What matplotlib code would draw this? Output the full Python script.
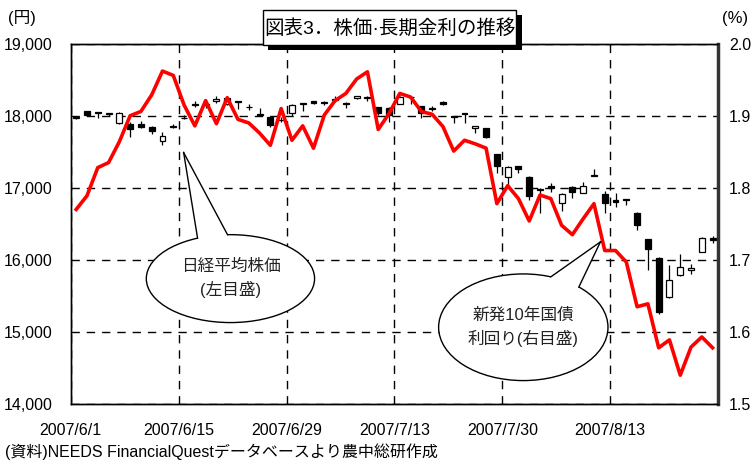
import numpy as np
import matplotlib
matplotlib.use("Agg")
from matplotlib import pyplot as plt
from matplotlib.patches import Ellipse, Polygon, Rectangle

plt.rcParams['font.family'] = ['Liberation Sans', 'Noto Sans CJK JP', 'DejaVu Sans']

# Nikkei 225 daily candles, 2007/6/1 - 2007/8/24
opens = [17970, 18060, 18040, 18025, 17895, 17890, 17880, 17850, 17650, 17840,
         17965, 18155, 18150, 18210, 18160, 18190, 18115, 18015, 17985, 17935,
         18035, 18165, 18205, 18175, 18220, 18180, 18240, 18265, 18115, 18110,
         18170, 18265, 18135, 18100, 18190, 17995, 18035, 17825, 17825, 17465,
         17155, 17300, 17155, 16985, 17020, 16795, 17005, 16935, 17165, 16915,
         16830, 16830, 16655, 16285, 16030, 15480, 15790, 15860, 16115, 16300]
highs = [18000, 18070, 18045, 18045, 18050, 17920, 17925, 17860, 17780, 17880,
         18010, 18205, 18180, 18280, 18280, 18200, 18160, 18110, 17990, 17985,
         18170, 18175, 18210, 18200, 18270, 18185, 18275, 18270, 18120, 18120,
         18270, 18270, 18140, 18140, 18210, 18000, 18040, 17860, 17835, 17470,
         17300, 17305, 17160, 16995, 17060, 16925, 17030, 17085, 17255, 16960,
         16930, 16835, 16660, 16290, 16035, 15925, 16080, 15940, 16315, 16330]
lows = [17950, 17990, 17970, 17990, 17880, 17700, 17830, 17745, 17595, 17830,
        17950, 18120, 18110, 18180, 18150, 18100, 18080, 18005, 17840, 17910,
        18000, 18070, 18170, 18150, 18195, 18105, 18235, 18210, 18010, 17920,
        18160, 18170, 17965, 18070, 18150, 17895, 17895, 17755, 17685, 17200,
        17015, 17200, 16830, 16655, 16940, 16680, 16855, 16925, 17160, 16655,
        16730, 16760, 16410, 15855, 15245, 15475, 15770, 15800, 16110, 16230]
closes = [17985, 18010, 18035, 18040, 18045, 17815, 17840, 17790, 17720, 17855,
          17975, 18160, 18155, 18235, 18250, 18195, 18120, 18025, 17875, 17945,
          18150, 18170, 18180, 18185, 18230, 18160, 18270, 18250, 18035, 18010,
          18255, 18255, 18045, 18110, 18165, 17980, 18020, 17855, 17710, 17300,
          17285, 17265, 16885, 16975, 17000, 16920, 16945, 17020, 17175, 16785,
          16800, 16825, 16480, 16145, 15280, 15720, 15905, 15890, 16310, 16270]

# newly issued 10-year JGB yield (%)
jgb = [1.770, 1.789, 1.828, 1.835, 1.864, 1.900, 1.906, 1.929, 1.962, 1.956,
       1.915, 1.886, 1.921, 1.889, 1.925, 1.895, 1.890, 1.876, 1.859, 1.910,
       1.866, 1.886, 1.855, 1.901, 1.921, 1.931, 1.951, 1.961, 1.881, 1.903,
       1.931, 1.926, 1.906, 1.902, 1.885, 1.851, 1.866, 1.861, 1.855, 1.778,
       1.803, 1.785, 1.754, 1.790, 1.785, 1.748, 1.735, 1.757, 1.778, 1.713,
       1.713, 1.697, 1.635, 1.639, 1.578, 1.589, 1.540, 1.579, 1.593, 1.578]

date_labels = ['2007/6/1', '2007/6/15', '2007/6/29', '2007/7/13', '2007/7/30', '2007/8/13']
left_ticks = [14000, 15000, 16000, 17000, 18000, 19000]
right_ticks = [1.5, 1.6, 1.7, 1.8, 1.9, 2.0]

W, H = 751, 461
fig = plt.figure(figsize=(W / 100, H / 100), dpi=100)
ax = fig.add_axes([70.8 / W, 1 - 404 / H, (718 - 70.8) / W, (404 - 43.7) / H])
ax2 = ax.twinx()

n = len(closes)
x = np.arange(n)
o = np.array(opens)
c = np.array(closes)

# candles
ax.vlines(x, lows, highs, color='black', lw=0.9, zorder=3)
down = c < o
body = np.where(np.abs(c - o) < 8, 8, c - o)
ax.bar(x, body, bottom=o, width=0.55,
       color=np.where(down, 'black', 'white'), edgecolor='black', lw=0.9, zorder=4)

ax.set_xlim(-0.5, n - 0.5)
ax.set_ylim(14000, 19000)
ax.set_yticks(left_ticks)
ax.set_yticklabels([f'{v:,}' for v in left_ticks])
ax.set_xticks(np.arange(-0.5, n - 0.5, 10))
ax.set_xticklabels(date_labels)
ax.tick_params(axis='y', length=0, pad=13, labelsize=11.5)
ax.tick_params(axis='x', length=0, pad=14, labelsize=11.5)
ax.grid(True, color='black', lw=1, linestyle=(0, (6, 5)))
ax.set_axisbelow(True)

# yield line
ax2.plot(x, jgb, color='#ff0000', lw=2.6, zorder=5)
ax2.set_ylim(1.5, 2.0)
ax2.set_yticks(right_ticks)
ax2.set_yticklabels([f'{v:.1f}' for v in right_ticks])
ax2.tick_params(axis='y', length=0, pad=8, labelsize=11.5)
ax2.spines['right'].set_linewidth(2.5)
ax2.spines['right'].set_color('#333333')
for sp in ['left', 'top', 'bottom']:
    ax2.spines[sp].set_linewidth(1)
    ax.spines[sp].set_linewidth(1)


def callout(cx, cy, w, h, apex, angles, lines):
    t = ax.transData
    ax2.add_patch(Ellipse((cx, cy), w, h, facecolor='white', edgecolor='black',
                          lw=1, transform=t, zorder=7))
    pts = [(cx + w / 2 * np.cos(np.radians(a)), cy + h / 2 * np.sin(np.radians(a))) for a in angles]
    ax2.add_patch(Polygon([apex, pts[0], (cx, cy), pts[1]], closed=True, facecolor='white',
                          edgecolor='none', transform=t, zorder=8))
    for p in pts:
        ax2.plot([apex[0], p[0]], [apex[1], p[1]], color='black', lw=1, transform=t, zorder=9)
    ax2.text(cx, cy, lines, transform=t, ha='center', va='center', fontsize=12,
             color='#222222', linespacing=1.5, zorder=10)


callout(14.3, 15740, 15.6, 1220, (9.96, 17490), (113, 92), '日経平均株価\n(左目盛)')
callout(41.45, 15065, 15.7, 1480, (48.6, 16250), (71, 49), '新発10年国債\n利回り(右目盛)')


# title box with shadow
def px(x0, y0, x1, y1):
    return (x0 / W, 1 - y1 / H), (x1 - x0) / W, (y1 - y0) / H


xy, w, h = px(268, 15, 522, 50)
fig.patches.append(Rectangle(xy, w, h, transform=fig.transFigure, facecolor='black',
                             edgecolor='none', zorder=20))
xy, w, h = px(263, 10, 516, 45)
fig.patches.append(Rectangle(xy, w, h, transform=fig.transFigure, facecolor='white',
                             edgecolor='black', lw=1, zorder=21))
fig.text((263 + 516) / 2 / W, 1 - 28 / H, '図表3．株価·長期金利の推移', ha='center', va='center',
         fontsize=14, zorder=22)

fig.text(8 / W, 1 - 18 / H, '(円)', ha='left', va='center', fontsize=12)
fig.text(748 / W, 1 - 18 / H, '(%)', ha='right', va='center', fontsize=12)
fig.text(5 / W, 1 - 452 / H, '(資料)NEEDS FinancialQuestデータベースより農中総研作成',
         ha='left', va='center', fontsize=11.5)

fig.savefig('out.png', dpi=100)
